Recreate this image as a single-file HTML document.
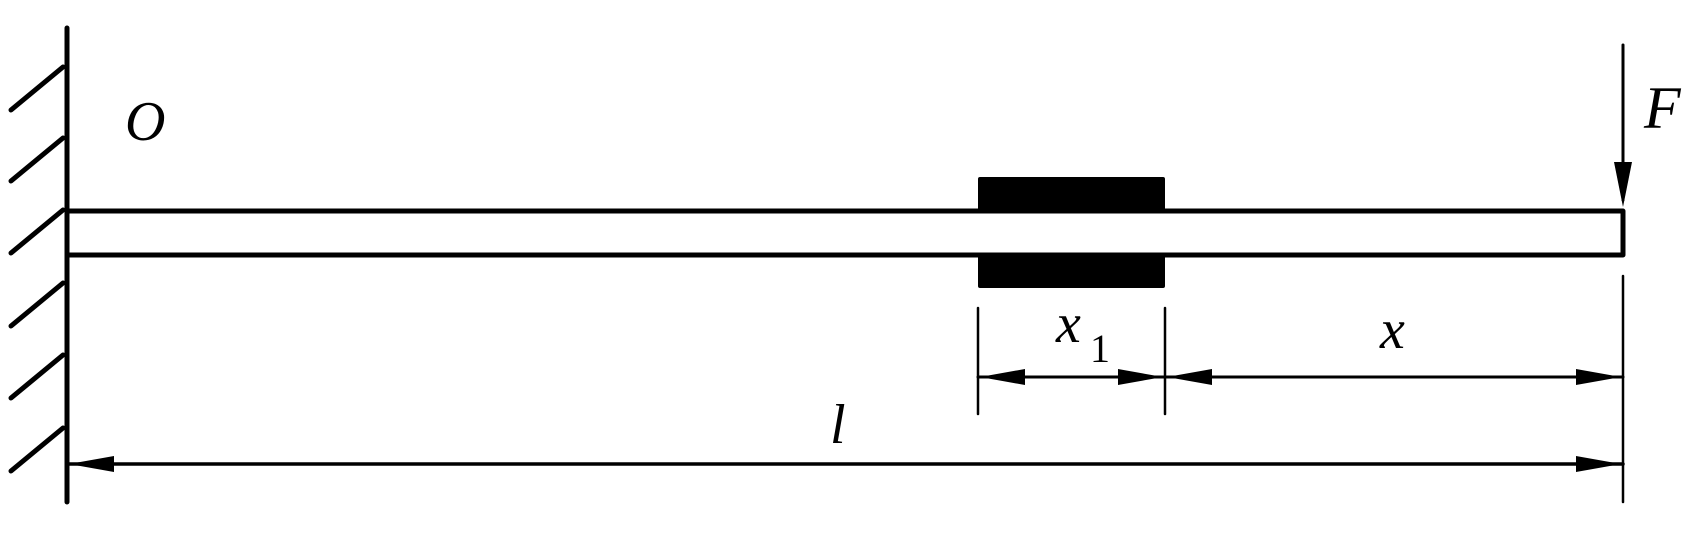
<!DOCTYPE html>
<html><head><meta charset="utf-8"><style>
html,body{margin:0;padding:0;background:#fff;}
svg{display:block;}
text{font-family:"Liberation Serif",serif;font-style:italic;fill:#000;}
</style></head><body>
<svg width="1694" height="548" viewBox="0 0 1694 548" xmlns="http://www.w3.org/2000/svg">
<rect x="978" y="177" width="187" height="111" rx="2" fill="#000"/>
<rect x="976" y="213" width="191" height="40" fill="#fff"/>
<g stroke="#000" stroke-linecap="round" fill="none">
<line x1="67" y1="28" x2="67" y2="502" stroke-width="5"/>
<g stroke-width="5">
<line x1="63" y1="67" x2="11" y2="110"/>
<line x1="63" y1="138" x2="11" y2="181"/>
<line x1="63" y1="210" x2="11" y2="253"/>
<line x1="63" y1="283" x2="11" y2="326"/>
<line x1="63" y1="355" x2="11" y2="398"/>
<line x1="63" y1="428" x2="11" y2="471"/>
</g>
<path d="M67 211 H1623 V255 H67" stroke-width="5" stroke-linejoin="round"/>
<line x1="1623" y1="45" x2="1623" y2="200" stroke-width="3"/>
<line x1="1623" y1="276" x2="1623" y2="502" stroke-width="2.5"/>
<line x1="978" y1="308" x2="978" y2="414" stroke-width="2.5"/>
<line x1="1165" y1="308" x2="1165" y2="414" stroke-width="2.5"/>
<line x1="978" y1="377" x2="1623" y2="377" stroke-width="3"/>
<line x1="67" y1="464" x2="1623" y2="464" stroke-width="3.5"/>
</g>
<g fill="#000">
<polygon points="1623,207 1614,162 1632,162"/>
<polygon points="980,377 1025,369 1025,385"/>
<polygon points="1163,377 1118,369 1118,385"/>
<polygon points="1167,377 1212,369 1212,385"/>
<polygon points="1621,377 1576,369 1576,385"/>
<polygon points="69,464 114,456 114,472"/>
<polygon points="1621,464 1576,456 1576,472"/>
</g>
<text x="125" y="140" font-size="56">O</text>
<text x="1644" y="128" font-size="60">F</text>
<text x="1056" y="342" font-size="56">x</text>
<text x="1090" y="362" font-size="40" style="font-style:normal">1</text>
<text x="1380" y="348" font-size="56">x</text>
<text x="830" y="443" font-size="56">l</text>
</svg>
</body></html>
